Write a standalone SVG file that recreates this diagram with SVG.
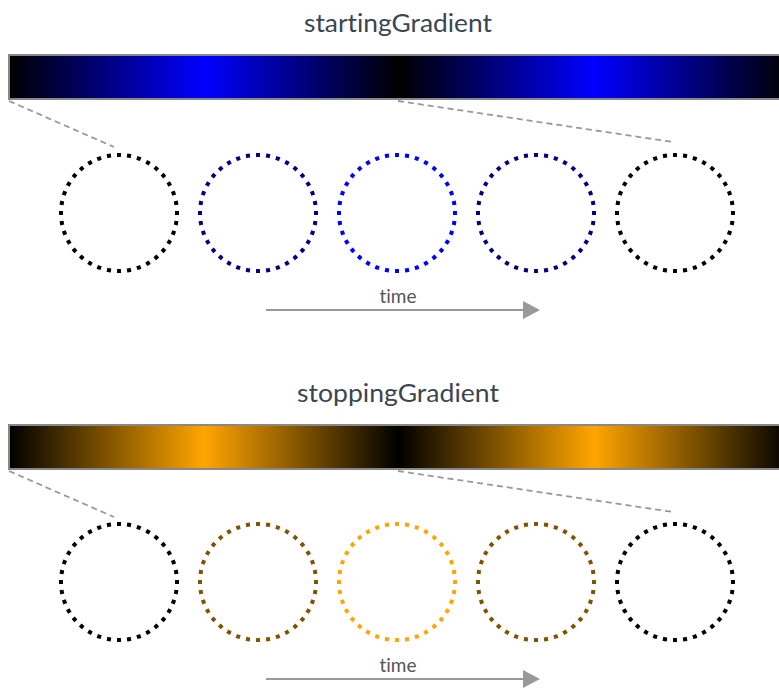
<svg xmlns="http://www.w3.org/2000/svg" width="779" height="689" viewBox="0 0 779 689">
  <defs>
    <linearGradient id="startingGradient" x1="0" y1="0" x2="1" y2="0">
      <stop offset="0" stop-color="#000"/>
      <stop offset="0.25" stop-color="#00f"/>
      <stop offset="0.5" stop-color="#000"/>
      <stop offset="0.75" stop-color="#00f"/>
      <stop offset="1" stop-color="#000"/>
    </linearGradient>
    <linearGradient id="stoppingGradient" x1="0" y1="0" x2="1" y2="0">
      <stop offset="0" stop-color="#000"/>
      <stop offset="0.25" stop-color="#ffa500"/>
      <stop offset="0.5" stop-color="#000"/>
      <stop offset="0.75" stop-color="#ffa500"/>
      <stop offset="1" stop-color="#000"/>
    </linearGradient>
    <marker id="arrow" viewBox="0 0 17 18" refX="0" refY="9" markerWidth="17" markerHeight="18" markerUnits="userSpaceOnUse" orient="auto">
      <path d="M0,0 L17,9 L0,18 Z" fill="#999"/>
    </marker>
  </defs>
  <style>
    text { font-variant-ligatures: none; }
    .title { font-family: Lato, "Open Sans", "Liberation Sans", sans-serif; font-size: 25px; fill: #3b4550; text-anchor: middle; }
    .time { font-family: Lato, "Open Sans", "Liberation Sans", sans-serif; font-size: 19px; fill: #555; text-anchor: middle; }
    .bar { stroke: #888; stroke-width: 2; }
    .guide { stroke: #999; stroke-width: 1.8; stroke-dasharray: 6 4; fill: none; }
    .dot { fill: none; stroke-width: 4; stroke-dasharray: 4 6; stroke-dashoffset: 2; }
    .axis { stroke: #999; stroke-width: 2; fill: none; }
  </style>

  <!-- starting gradient panel -->
  <g id="starting">
    <text class="title" x="398" y="32" textLength="188" lengthAdjust="spacingAndGlyphs">startingGradient</text>
    <rect class="bar" x="9" y="55" width="780" height="44" fill="url(#startingGradient)"/>
  </g>
  <g id="starting-guides">
    <line class="guide" x1="9" y1="101" x2="114" y2="147"/>
    <line class="guide" x1="398" y1="101" x2="673" y2="142"/>
  </g>
  <g id="starting-c1"><circle class="dot" cx="119" cy="213" r="58" pathLength="360" stroke="#000"/></g>
  <g id="starting-c2"><circle class="dot" cx="258" cy="213" r="58" pathLength="360" stroke="#000080"/></g>
  <g id="starting-c3"><circle class="dot" cx="397" cy="213" r="58" pathLength="360" stroke="#00f"/></g>
  <g id="starting-c4"><circle class="dot" cx="536" cy="213" r="58" pathLength="360" stroke="#000080"/></g>
  <g id="starting-c5"><circle class="dot" cx="675" cy="213" r="58" pathLength="360" stroke="#000"/></g>
  <g id="starting-time">
    <text class="time" x="398" y="303">time</text>
    <line class="axis" x1="266" y1="310" x2="523" y2="310" marker-end="url(#arrow)"/>
  </g>

  <!-- stopping gradient panel -->
  <g id="stopping">
    <text class="title" x="398" y="402" textLength="202" lengthAdjust="spacingAndGlyphs">stoppingGradient</text>
    <rect class="bar" x="9" y="425" width="780" height="44" fill="url(#stoppingGradient)"/>
  </g>
  <g id="stopping-guides">
    <line class="guide" x1="9" y1="471" x2="114" y2="517"/>
    <line class="guide" x1="398" y1="471" x2="673" y2="512"/>
  </g>
  <g id="stopping-c1"><circle class="dot" cx="119" cy="582" r="58" pathLength="360" stroke="#000"/></g>
  <g id="stopping-c2"><circle class="dot" cx="258" cy="582" r="58" pathLength="360" stroke="#805300"/></g>
  <g id="stopping-c3"><circle class="dot" cx="397" cy="582" r="58" pathLength="360" stroke="#ffa500"/></g>
  <g id="stopping-c4"><circle class="dot" cx="536" cy="582" r="58" pathLength="360" stroke="#805300"/></g>
  <g id="stopping-c5"><circle class="dot" cx="675" cy="582" r="58" pathLength="360" stroke="#000"/></g>
  <g id="stopping-time">
    <text class="time" x="398" y="672">time</text>
    <line class="axis" x1="266" y1="679" x2="523" y2="679" marker-end="url(#arrow)"/>
  </g>
</svg>
